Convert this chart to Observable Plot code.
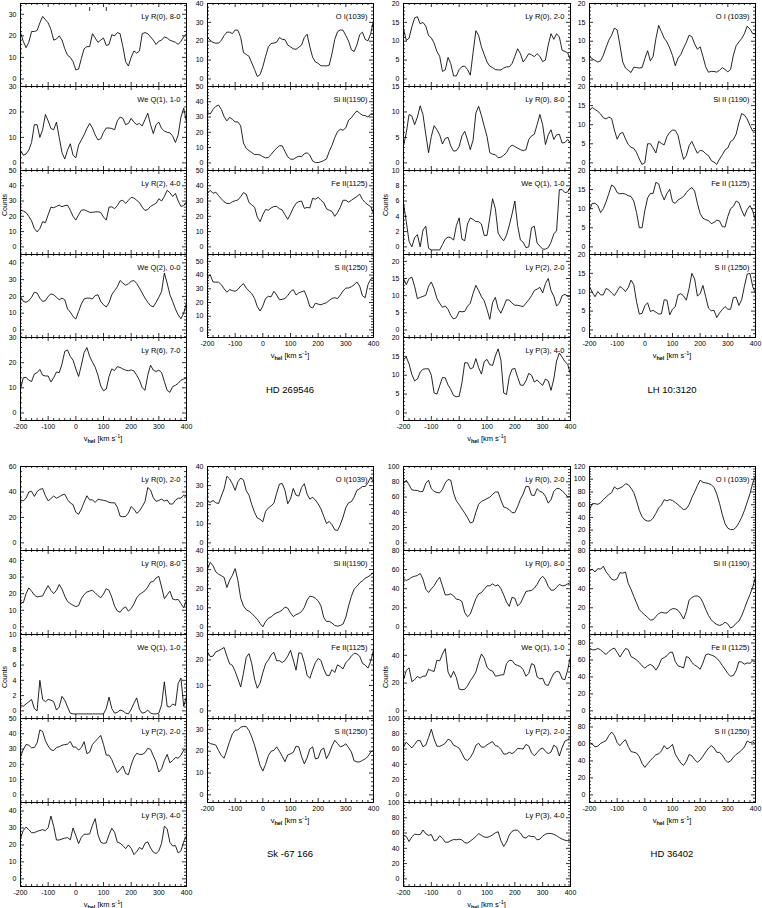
<!DOCTYPE html>
<html><head><meta charset="utf-8">
<script src="https://cdn.jsdelivr.net/npm/d3@7"></script>
<script src="https://cdn.jsdelivr.net/npm/@observablehq/plot@0.6"></script>
<style>
html,body{margin:0;padding:0;background:#fff;}
#chart{position:relative;width:762px;height:908px;overflow:hidden;background:#fff;font-family:"Liberation Sans",Arial,Helvetica,sans-serif;color:#000;}
.lbl{position:absolute;white-space:nowrap;line-height:1;}
.vhel{font-size:7.5px;transform:translate(-50%,-50%);}
.vhel sub{font-size:5.5px;vertical-align:-1.5px;font-weight:bold;line-height:0;}
.vhel sup{font-size:5.5px;vertical-align:3px;line-height:0;}
.title{font-size:9.5px;transform:translate(-50%,-50%);}
.counts{font-size:7px;transform:translate(-50%,-50%) rotate(-90deg);}
</style></head><body><div id="chart"></div>
<script>
// ---------------- data ----------------
const velocity = [-200,-190,-180,-170,-160,-150,-140,-130,-120,-110,-100,-90,-80,-70,-60,-50,-40,-30,-20,-10,0,10,20,30,40,50,60,70,80,90,100,110,120,130,140,150,160,170,180,190,200,210,220,230,240,250,260,270,280,290,300,310,320,330,340,350,360,370,380,390,400];
const xTickLabels = [-200,-100,0,100,200,300,400];

// HD 269546
const hd269546_components = [50, 110];
const hd269546_LyR0_80 = [21.6,17.5,14.5,17,22,22,22.5,26,29,27.5, 26,23,18,18.5,20,18,14,11,10,8, 4.2,4.6,9.5,14,15,15,21,19,17,18, 19,15.5,16,20.5,20,21.5,21,15,8,6, 10,13,12,13,21,21.5,21,19.5,18,16, 17.5,18,19.5,19,18,17.5,17,16,17.5,19.5, 21];
const hd269546_WeQ1_10 = [5,3,3.5,5,8,15,15,10,13,19, 16.5,13.5,13,16,10,4,1.5,5,7.5,3, 2,7,9,11,13.5,15.5,13.7,11,9,9.5, 12,13.7,13.7,13.5,13,16.5,18,17.5,15,15.5, 17.5,16,15,15.5,14.5,17,19.5,15,11.5,15, 16,13.5,12.5,12,11.8,10.5,8,11,18,21.5, 16];
const hd269546_LyR2_40 = [24,23.5,22.5,20,17,12,9.8,12,16.5,15.8, 21,26,25.6,26.5,27.3,26.3,27,27.3,24,20, 17.5,21,24,24.3,23.5,22.6,22.6,22.9,23,22.5, 19.5,17.5,26,26.2,25,27,30,30.5,28.4,30.5, 32.4,32,30.5,29,26,23.8,24.5,26.5,27.5,28.5, 31.5,30,33,37,35.5,33,35,30,26.5,27, 29.6];
const hd269546_WeQ2_00 = [20,17,16.5,17.5,19.5,22.5,22,19,17,17.5, 20,21.5,21,19.5,18,19,18,12.5,10.7,8, 6.5,11,15.5,18.5,19,19,18.5,20.5,21,17, 15,13.7,16.2,21,23.5,25.7,29.5,28,26.7,27.5, 29,29.5,27.7,25,22,19,16.5,14.5,13.8,16.5, 19.5,23,34,28,21,17,12.5,9,6.7,10, 16];
const hd269546_LyR6_70 = [9.5,14,14.2,13,12.5,15.5,16,17.3,15,14.7, 14.7,12.3,14,16.3,16,19.5,24.5,25,22.5,21, 17.5,14.5,19,24,26,22.5,20.2,18.2,15,10.7, 8.8,9.5,14.5,17.5,16.9,18.4,18.1,17.5,17,16.8, 17.1,16.7,15,13,10,9,15,19,17,16.5, 17,16,12.5,9,8.2,10.5,11,11.8,13,13.5, 14];
const hd269546_OI = [22,20.5,19.3,19,19,20.5,23,24.8,24.8,24, 26,25.8,22,14,13,12,8.5,5,1.3,2.3, 6.5,12,17,18.8,19,19.5,22,21,20.8,18, 17,16,15.7,16.8,18,22,23.7,17,11.5,9, 8.3,7,7,6.9,7.3,13.5,21,25,26,25.8, 23,20,15.5,14.5,18,23.5,24.8,21,20.2,24, 31];
const hd269546_SiII = [33,32,35,37,37.8,35,30.3,27.5,29.8,28.5, 26.8,26.8,24.2,13,9.5,8,6.7,5.5,5.5,5.2, 4,3.3,3.5,5.5,7.8,9.6,11.2,11.2,7.5,4, 2.5,2.3,3.5,4.4,4,6,6.6,5,1.2,0.2, 0.2,0.7,1.5,2.5,7.5,11.5,16.5,20.5,22,21.4, 23,28,29.5,32,34,32.5,31.2,30.9,30,32, 31.9];
const hd269546_FeII = [35,37,35,35.8,33.5,31.5,29.5,28.4,28.4,29.5, 30.2,30.7,32.9,35.5,34.5,29,27.5,26,19.5,16.5, 21,24.5,24,25.5,26.4,26.5,25,24.2,21,18, 21.5,25.5,28.5,29.6,30,25.2,25.8,25.5,31.8,31.2, 32.5,30.5,29,25,24,23.2,20,22.5,26,30.5, 30.5,29.3,30.5,31.8,33,34.5,31.1,29,27.5,26.4, 22];
const hd269546_SII = [38.8,40,35,34.9,34.8,33,30,27.5,29.4,28.7, 28.2,29.5,32,33.8,30.5,28.5,26.5,23,17,13.8, 17.5,23,24.5,24.2,28.2,25.5,22,22.3,23,25, 28,29.4,25.5,27,27.8,28.5,23.5,17,16,19.5, 18.8,18.4,19.2,19.8,21.5,23,23.5,22.8,25.5,28.5, 30.5,30.6,31.5,32.9,35,32,25,23.5,33,37, 37.6];

// LH 10:3120
const lh103120_LyR0_20 = [13.3,10.2,10.8,13.8,16.2,16.5,14.6,15,14,11.5, 10.9,9.5,7.3,6,2,2.4,5.7,4,0.8,0.8, 2.5,3.3,3.4,2.5,1,7,12.8,11.5,8.5,6.5, 4.5,3.4,3,2.5,2.4,2.4,2.9,3.2,3.2,4.1, 6,8,6.7,4.5,5.5,6.7,6.4,5.9,6.7,6, 4.6,5,9,12,10.5,12,11.1,7.6,7.3,6.9, 5];
const lh103120_LyR0_80 = [3.3,5.9,9.5,9.2,7.5,9,11.2,9.5,5.6,2, 5.2,7.3,6.5,5.5,3.7,4.8,5,3.3,2.3,2.4, 3.2,5.3,6.2,4.5,2.6,4.5,9.8,11.1,9.3,7.2, 5.2,2,1.7,1.6,1,1.1,1.5,2,3,3.5, 3.2,2.9,2.6,2.4,2.6,4.6,5.3,5.6,7.5,9.5, 7.5,3.6,5.5,6.5,4.6,5.5,5.6,3.9,4,4.6, 3.9];
const lh103120_WeQ1_10 = [5.7,3.3,0.7,0,1.2,1.6,0,2.2,2.7,-0.2, -0.4,-0.4,-0.4,-0.4,0.3,1,1.3,1.2,0.9,2.8, 3.8,1,0.8,3,3.8,3.6,3.3,3.3,3,1.5, 1.5,3.8,6.3,5,1.8,1.2,0.8,1.5,2.8,4.3, 6,2.8,0.9,0.6,-0.1,0,2.5,2.7,0.5,0.1, -0.3,-0.3,-0.1,0.6,1.7,2.1,7.5,7.5,7.1,7.2, 7.9];
const lh103120_LyP2_20 = [15,13.2,15,15.4,12.7,9.1,9.5,9.8,10.1,12.7, 14,12,9.2,7.8,6.6,7,6,4.2,3.2,3.6, 5.4,5.3,5.4,6.9,7.8,10.7,13,11.5,9.7,8.5, 6,3.1,8,9.5,6.2,4.9,6.8,8.8,8.7,7.8, 7.2,7.2,7,6.8,7.8,8.8,10,11.5,11.9,12.4, 10.8,13.5,15,11.5,9.8,7,7.8,10,10.4,9.8, 9.8];
const lh103120_LyP3_40 = [14.2,14.8,13,10.2,8.5,9,10.8,11.6,11.7,11.7, 10,5.3,5,7.2,9.4,9.3,7.4,6.2,4.6,4.3, 4.4,8,13.3,13.3,11.7,12,14.4,12,10.3,13.6, 14.2,12.8,12.6,15.1,17,14,5.3,4.9,9.6,11.6, 11.8,9.5,7.4,7.3,8.5,10.5,10,8.2,8.7,8, 7.3,9,8.5,6,9,13.8,15.9,14.8,13.6,12.9, 10.2];
const lh103120_OI = [5.9,5.4,4.9,4.5,4.8,6.3,8.4,10.3,11.6,13.5, 13,9,4.5,2.9,2.3,1.7,3.1,3,2.9,3, 5.4,7.5,4.8,6,10.7,14.2,12.5,10.8,9.8,8.2, 6.2,3.5,5.5,6.5,8.2,9.7,11.6,11.2,9.3,7.9, 8.5,6,3.2,1.8,2,2,1.8,2.3,3,2.5, 1.9,2.5,6.3,8.8,9.8,10.7,12,14,13.2,12, 12];
const lh103120_SiII = [13.8,14.5,14,13.5,12.8,11.8,11.5,12,11.6,8.6, 6.2,7.6,8,6.3,4.8,4.1,3.8,2.7,1,-0.4, 0,5,5,3.9,2.6,5.6,5.1,4.7,6.9,8, 8.6,8.5,7.2,3.8,0.9,1.9,4.5,5.6,4,2.5, 3.3,3.1,2.4,1.9,0.6,0.2,-0.4,1,2.1,3.4, 3.9,5.6,6.1,7.5,10.5,12.9,12.5,11.5,9.8,8.3, 8.6];
const lh103120_FeII = [9.6,11.4,11.4,10.8,9,10,11.8,14,16.2,15.7, 14.2,13.9,14,13.8,13.4,13.2,12,9,5,5, 9.5,12.8,14,14,16.9,16.5,14,12.3,14,15.1, 11.8,11.4,12.3,12.7,13.2,14.2,15,15.5,14.6,11.4, 8.7,7.5,7.1,6.9,6.1,6.4,7,6.8,5.3,5.2, 8,10,10.6,12,11.6,9.6,8,9.8,10.8,9.4, 6.9];
const lh103120_SII = [11.5,10,8.8,10.2,9.3,9.3,11,10.6,9.8,9.1, 10.3,11.5,11,10.2,11.2,13.2,12,7.5,4.2,4.4, 6.4,7.2,4.9,5.2,4.7,4.2,4.3,8,7.9,4, 5.5,6.2,9.3,9.6,9,7.9,11,15,13.5,9, 9.6,11.8,8.8,5.8,5.1,5.2,3.3,4.5,5.4,6.2, 5.5,5.5,8.6,8.7,6.5,8,11.6,14.8,15,11.5, 9.7];

// Sk -67 166
const sk67166_LyR0_20 = [33.8,33,35,40,40.5,36.5,40.3,42,42.7,37, 33,34.8,36.8,35.1,36.2,37.6,38.2,34,31.3,30, 24,22.5,26.5,32,37,33.8,33.8,31.8,34.3,33.8, 33.4,32.9,31.8,31.4,31.5,28,21,20.5,20.8,23.5, 28.5,26.5,23.2,25,28.5,32.5,43.5,41.5,35.5,32.6, 33.3,34.4,32.8,33.7,30.5,30.5,33.5,35.1,35.1,37.6, 36.9];
const sk67166_LyR0_80 = [15,14.5,20,23.5,21.5,19.2,18,18.4,18.6,22, 24.8,22,20,22,25.5,22.8,18.5,15.3,14,13, 12.2,12.8,17,19.5,21,21.6,22,20.5,18.8,17.5, 19.8,23,22,17.8,12.5,9.6,8.8,11,12,9.5, 11,13.8,17.5,19.5,20.6,21.8,24,27,27.3,29.5, 30.4,24,17,19.3,21.5,16.8,16.3,16.5,14,11.5, 16];
const sk67166_WeQ1_10 = [0.8,0.6,0.9,1.2,1.5,0.3,0,4,1.5,1.2, 1.5,1.4,1.2,0.1,0.5,1.9,1.4,0.5,-0.3,-0.4, -0.4,-0.4,-0.4,-0.4,-0.4,-0.4,-0.4,-0.4,-0.4,-0.4, -0.4,0.3,1.8,0.3,-0.3,-0.2,0.1,0,-0.3,-0.4, 0.2,1,1.7,0.2,-0.3,-0.2,0.1,-0.3,-0.4,-0.4, -0.3,0.8,3.8,0.6,0.5,0.9,0.7,3.6,4.3,0.6, 1.9];
const sk67166_LyP2_20 = [25,29.6,33,32.5,30.8,31,34,42.5,41.5,35.5, 32,29.5,29,31,31.5,32.5,32.9,33.2,35,31.3, 31.3,29.3,31,34.8,27,28,33,35,37,38.9, 33,26,26,23,18.5,14.5,16.5,18.9,14,13.2, 19.5,24.6,27.2,26.5,26.5,27.6,30.5,29.8,25.5,21.5, 15,17,22.5,26.5,21,22.5,24.5,24,26,29.3, 29.6];
const sk67166_LyP3_40 = [24,28.5,30.5,29,27.2,27.2,28,28.5,29,28.4, 30.2,37,31,22.9,22.9,23.5,24,24.3,23,30, 25.5,20.8,24.5,26.3,26.3,26.5,31.5,35.5,26,21.6, 20.9,21.2,26,29.8,27.5,21.6,21,19.6,17.8,20, 18,14.3,16,18.5,17.4,21,21.8,18.2,15.8,14.9, 16.5,21,31,29.5,21.5,19.4,19.6,15.3,16.5,22, 25.3];
const sk67166_OI = [21.6,21.3,22.2,21,20.6,24.5,28.3,34.9,33.5,31, 27.5,32,33.9,33,27.3,25,20,16,13,12.3, 11,16.5,18.3,19.4,20.8,26,30.8,31.1,27.5,20.5, 23,28.5,25,24.5,29,31,25.5,22.9,23.9,22.4, 20.4,17.8,14,10.2,11.2,9.5,6.8,6.5,9.5,13.5, 18.5,21,21.6,24,27.5,28.4,29.5,29.5,31.5,34.4, 31.8];
const sk67166_SiII = [30.3,33.8,32,28.8,27.6,26.8,25.9,20.6,24.5,27, 30.5,24.3,15,11,9,8.2,7,5.5,4,1.8, 0,2.8,4.5,5.2,6.5,7.4,7.9,8.8,10.3,9.8, 7.3,5.4,6.4,7,8,10.2,14,16.1,15.8,15, 13.6,11,5,2.8,2.9,2,0.7,0.4,0.7,1.5, 5,11,16,19.8,21.2,23,24.1,25.5,26.2,27.2, 28.5];
const sk67166_FeII = [23.2,21.3,21.5,23.2,23.6,24.2,24.9,21.5,18.5,17.9, 15.5,12.5,9.4,14.8,21,22.5,18.5,12.5,8.9,10.9, 15,18.5,20,22,23,19.7,19.7,19,19.8,21.5, 23.8,20,16,22.8,22.6,19,14,12.8,16.1,19, 20.6,19.8,16.5,14,13.8,16.2,15.1,18.1,17.4,16.5, 19,20,21.5,22.6,22.4,21.5,18.7,18,16.8,19.5, 23.9];
const sk67166_SII = [24.3,23.5,23.2,22.8,20.3,18,16.8,20.5,24.5,28, 29.6,29.8,31,31.4,31.3,29.5,26.5,22.8,18.2,13.5, 10.9,14,18,20,20.4,22,20,17.7,15.2,18.3, 18.8,19.5,22.3,22,17.5,14.2,17,21,22,16.5, 16.8,20.5,21.5,16.6,19,22.4,25,23.5,22,22.5, 23.4,21.6,19.7,15.6,15.1,15.1,15.8,16.5,17.6,19.6, 20.5];

// HD 36402
const hd36402_LyR0_20 = [78,82,76,69.5,68.7,68.7,67,67.5,78,82, 71,67.4,66,65.5,70,78.5,83,82,65,55, 50,44.5,39,33,26,27.5,40,50.5,54.3,56, 58,59.8,63.5,66.7,66.5,56,47,45.7,43.5,39.5, 39.5,47.5,57,64,74,73.9,62.5,62,71,67.4, 66,61,52,56.5,67.4,71.2,71,68,64.5,60.3, 60.9];
const hd36402_LyR0_80 = [50.7,48.5,50,52,53,53.8,56,50,39.5,36, 39.8,43,48.2,52,43,33.5,33.6,34.6,32.5,29, 28.5,26.5,15,10.6,13.5,21.5,29.5,34.5,35.9,39.4, 43,43,45,43,44,40,33.5,26,21.5,31, 30,22,24.5,30.8,37,37.7,38.2,40.5,44.5,50, 53,49.5,42.5,38.5,38.5,41.5,44.5,43,43.3,45, 46.5];
const hd36402_WeQ1_10 = [22.4,29,31,21,22.5,24.8,23.6,25,25,30, 29,28.4,36.5,36,41,44.8,28,24,28.5,24, 15.7,15.2,15.5,18,21.7,24.5,28,35,41,38, 31.5,29.3,28.7,25,25.3,25.9,26,34,36.4,36.3, 33.6,32.7,32,29.6,24.9,27,34,33,24.5,23, 23.5,18.8,18.3,23,27,28.4,28,23,22.5,29.5, 39.3];
const hd36402_LyP2_20 = [63,69,65.2,61.5,66,71,71,63,65.2,75, 86,73,63.8,63.5,65.2,67.5,73,71,65,63.5, 61,54.3,47,45,49,55,65,67.5,62.5,62.5, 65.5,67.8,69.6,64.5,63.5,59.5,53.5,53.5,55.8,54, 56.5,60.9,60.5,60,66,64,55,51.2,55.2,59.6, 61.5,57,54,56,65,62.5,50.9,62,70.5,72, 76];
const hd36402_LyP3_40 = [57.4,55.5,48.8,55,58.5,58,58,64,59,57, 58,50,51,56.5,53,48,48,50,51.5,51.2, 52,51,47.5,47,49.5,52.3,55.5,59.3,57,54.8, 54.3,55.5,57.7,60.3,61.7,50,42.5,48,57.5,62.3, 63.9,63.6,60,54.5,53.5,56.5,55.5,55.5,51,52, 56,58.5,59.6,59.4,58.3,56.5,54,52,50.6,50, 50];
const hd36402_OI = [52.2,61.6,61.6,60.5,63,68,72,76,79,88, 84.5,86.2,88.5,92.9,91.5,86,79,66,51,41, 36,34.2,34.6,39,46.5,55,59.5,67.8,66,68, 66.5,63.5,60,56,52.2,53.5,60,71,80,90, 98.5,95.2,94.2,93.3,91.5,87,77,62,44.5,30, 23,20.9,20.9,24.5,31.5,40,51,64,77,94, 105];
const hd36402_SiII = [58.8,60.3,57.5,61,60.5,63.5,57.6,54,50,48.9, 50.3,56.8,56.2,57.5,45.5,39.4,32,25,18,15, 12.5,10,7,7.4,11,13.8,15.3,14.6,14.5,17.5, 19,19,17.3,13.5,8.2,16,28,30.7,32.2,32.4, 30.8,25.5,18.3,12,7.5,4.5,2.5,1.5,2.5,4.9, 3,-1.2,0.3,3.8,6,11.7,19,27,33.8,41.5, 52.5];
const hd36402_FeII = [74,72,72,73.5,72,68.7,66.5,70,72.5,74, 69,63.5,68.5,73.5,72.2,64,62.3,60,57,53, 50.3,53.2,54.7,52.8,48,53,61,62.8,65,68.8, 69.2,58,53,52,50.5,64,62.5,57,54,52, 49,56.5,66,67,65.7,64.5,62,58.3,53.5,49, 44,40.8,41.7,47.4,58,57.5,55,56.5,56,59, 58];
const hd36402_SII = [62,60,56.5,57.5,60.5,62.3,64,70,74,70, 61.5,58,62,65,57,51,50.2,49.3,45,37, 32.5,36.5,40.5,44,47.2,48.3,51.8,58,54,56, 59.5,48,42.5,37.5,34.8,39.5,47.5,46,41.6,38.5, 41,45.5,50.5,55,58,55.5,50.2,50,47,41.5, 38.2,40,44.3,47.6,50,52.7,56.5,63.5,61.5,62.5, 60];

// ---------------- panel definitions ----------------
const quadrants = [
  {name: "HD 269546",
   left: [
     {label: "Ly R(0), 8-0", values: hd269546_LyR0_80, max: 35, step: 10, components: hd269546_components},
     {label: "We Q(1), 1-0", values: hd269546_WeQ1_10, max: 30, step: 10},
     {label: "Ly R(2), 4-0", values: hd269546_LyR2_40, max: 50, step: 10},
     {label: "We Q(2), 0-0", values: hd269546_WeQ2_00, max: 45, step: 10},
     {label: "Ly R(6), 7-0", values: hd269546_LyR6_70, max: 30, step: 10}],
   right: [
     {label: "O I(1039)", values: hd269546_OI, max: 40, step: 10},
     {label: "Si II(1190)", values: hd269546_SiII, max: 50, step: 10},
     {label: "Fe II(1125)", values: hd269546_FeII, max: 50, step: 10},
     {label: "S II(1250)", values: hd269546_SII, max: 55, step: 10}]},
  {name: "LH 10:3120",
   left: [
     {label: "Ly R(0), 2-0", values: lh103120_LyR0_20, max: 20, step: 5},
     {label: "Ly R(0), 8-0", values: lh103120_LyR0_80, max: 15, step: 5},
     {label: "We Q(1), 1-0", values: lh103120_WeQ1_10, max: 10, step: 2},
     {label: "Ly P(2), 2-0", values: lh103120_LyP2_20, max: 22, step: 5},
     {label: "Ly P(3), 4-0", values: lh103120_LyP3_40, max: 20, step: 5}],
   right: [
     {label: "O I (1039)", values: lh103120_OI, max: 20, step: 5},
     {label: "Si II (1190)", values: lh103120_SiII, max: 20, step: 5},
     {label: "Fe II (1125)", values: lh103120_FeII, max: 20, step: 5},
     {label: "S II (1250)", values: lh103120_SII, max: 20, step: 5}]},
  {name: "Sk -67 166",
   left: [
     {label: "Ly R(0), 2-0", values: sk67166_LyR0_20, max: 60, step: 20},
     {label: "Ly R(0), 8-0", values: sk67166_LyR0_80, max: 46, step: 10},
     {label: "We Q(1), 1-0", values: sk67166_WeQ1_10, max: 10, step: 2},
     {label: "Ly P(2), 2-0", values: sk67166_LyP2_20, max: 50, step: 10},
     {label: "Ly P(3), 4-0", values: sk67166_LyP3_40, max: 45, step: 10}],
   right: [
     {label: "O I(1039)", values: sk67166_OI, max: 40, step: 10},
     {label: "Si II(1190)", values: sk67166_SiII, max: 40, step: 10},
     {label: "Fe II(1125)", values: sk67166_FeII, max: 30, step: 10},
     {label: "S II(1250)", values: sk67166_SII, max: 35, step: 10}]},
  {name: "HD 36402",
   left: [
     {label: "Ly R(0), 2-0", values: hd36402_LyR0_20, max: 100, step: 20},
     {label: "Ly R(0), 8-0", values: hd36402_LyR0_80, max: 80, step: 20},
     {label: "We Q(1), 1-0", values: hd36402_WeQ1_10, max: 55, step: 20},
     {label: "Ly P(2), 2-0", values: hd36402_LyP2_20, max: 100, step: 20},
     {label: "Ly P(3), 4-0", values: hd36402_LyP3_40, max: 100, step: 20}],
   right: [
     {label: "O I (1039)", values: hd36402_OI, max: 120, step: 20},
     {label: "Si II (1190)", values: hd36402_SiII, max: 80, step: 20},
     {label: "Fe II (1125)", values: hd36402_FeII, max: 90, step: 20},
     {label: "S II (1250)", values: hd36402_SII, max: 90, step: 20}]}
];

// ---------------- layout ----------------
const layout = [
  {lx: [20, 186], rx: [207, 373], edges: [3, 86, 170, 254, 337, 420], counts: [4, 205], title: [290, 390]},
  {lx: [403, 570], rx: [589, 755], edges: [3, 86, 170, 254, 337, 420], counts: [385, 205], title: [672, 390]},
  {lx: [20, 186], rx: [207, 373], edges: [466, 550, 634, 718, 802, 886], counts: [4, 677], title: [290, 854]},
  {lx: [403, 570], rx: [589, 755], edges: [466, 550, 634, 718, 802, 886], counts: [385, 677], title: [672, 854]}
];

const chart = document.getElementById("chart");
const fmt = d => String(d);
const FONT = '"Liberation Sans", Arial, Helvetica, sans-serif';

function panel(p, x0, x1, top, h, bottom) {
  const mL = 26, mR = 4, mT = 6, mB = bottom ? 18 : 6;
  const w = x1 - x0;
  const ymin = -0.1 * p.max;
  const yMajor = d3.range(0, p.max + 1e-9, p.step);
  const ms = p.step === 2 ? 0.5 : p.step / 5;
  const yMinor = d3.range(Math.ceil(ymin / ms - 1e-9) * ms, p.max + 1e-9, ms)
    .filter(v => Math.abs(v / p.step - Math.round(v / p.step)) > 1e-6);
  const xMinor = d3.range(-200, 401, 20).filter(v => v % 100 !== 0);
  const ts = {stroke: "#000", strokeWidth: 0.8};
  const marks = [
    Plot.tickX(xTickLabels, {x: d => d, insetTop: h - 4, ...ts}),
    Plot.tickX(xTickLabels, {x: d => d, insetBottom: h - 4, ...ts}),
    Plot.tickX(xMinor, {x: d => d, insetTop: h - 2, ...ts}),
    Plot.tickX(xMinor, {x: d => d, insetBottom: h - 2, ...ts}),
    Plot.tickY(yMajor, {y: d => d, insetRight: w - 4, ...ts}),
    Plot.tickY(yMajor, {y: d => d, insetLeft: w - 4, ...ts}),
    Plot.tickY(yMinor, {y: d => d, insetRight: w - 2, ...ts}),
    Plot.tickY(yMinor, {y: d => d, insetLeft: w - 2, ...ts}),
    Plot.axisY(yMajor, {anchor: "left", tickSize: 0, tickPadding: 4, tickFormat: fmt, label: null}),
    Plot.line(p.values, {x: (d, i) => velocity[i], y: d => d, stroke: "#000", strokeWidth: 0.85}),
    Plot.text([p.label], {frameAnchor: "top-right", text: d => d, dx: -6, dy: 10.5, fontSize: 7.5, textAnchor: "end"}),
    Plot.frame({stroke: "#000", strokeWidth: 1})
  ];
  if (p.components) marks.push(Plot.tickX(p.components, {x: d => d, insetTop: 4, insetBottom: h - 8, ...ts}));
  if (bottom) marks.push(Plot.axisX(xTickLabels, {anchor: "bottom", tickSize: 0, tickPadding: 4, tickFormat: fmt, label: null}));
  const svg = Plot.plot({
    width: w + mL + mR, height: h + mT + mB,
    marginLeft: mL, marginRight: mR, marginTop: mT, marginBottom: mB,
    x: {domain: [-200, 400], axis: null},
    y: {domain: [ymin, p.max], axis: null},
    style: `font-family: ${FONT}; font-size: 7px; background: transparent; overflow: visible;`,
    marks
  });
  svg.style.position = "absolute";
  svg.style.left = (x0 - mL) + "px";
  svg.style.top = (top - mT) + "px";
  chart.appendChild(svg);
}

function addLabel(cls, html, x, y) {
  const d = document.createElement("div");
  d.className = "lbl " + cls;
  d.innerHTML = html;
  d.style.left = x + "px";
  d.style.top = y + "px";
  chart.appendChild(d);
}

const vhel = 'v<sub>hel</sub> [km s<sup>-1</sup>]';
quadrants.forEach((q, qi) => {
  const L = layout[qi];
  q.left.forEach((p, i) => panel(p, L.lx[0], L.lx[1], L.edges[i], L.edges[i + 1] - L.edges[i], i === q.left.length - 1));
  q.right.forEach((p, i) => panel(p, L.rx[0], L.rx[1], L.edges[i], L.edges[i + 1] - L.edges[i], i === q.right.length - 1));
  addLabel("vhel", vhel, (L.lx[0] + L.lx[1]) / 2, L.edges[5] + 18.5);
  addLabel("vhel", vhel, (L.rx[0] + L.rx[1]) / 2, L.edges[4] + 18.5);
  addLabel("counts", "Counts", L.counts[0], L.counts[1]);
  addLabel("title", q.name, L.title[0], L.title[1]);
});
</script></body></html>
